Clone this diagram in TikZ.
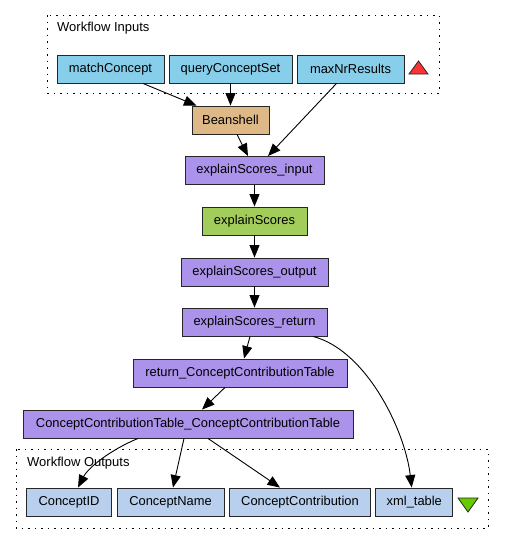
\documentclass[tikz,border=0pt]{standalone}
\usepackage{fontspec}
\setmainfont{Liberation Sans}
\usetikzlibrary{arrows.meta}
\definecolor{inblue}{HTML}{87CEEB}
\definecolor{beanc}{HTML}{DEB887}
\definecolor{purp}{HTML}{AB92EA}
\definecolor{wsdl}{HTML}{A2CD5A}
\definecolor{outblue}{HTML}{B9CFEE}
\definecolor{redtri}{HTML}{FF3333}
\definecolor{greentri}{HTML}{66CC00}
\tikzset{
  box/.style={draw=black!85, line width=0.9pt, inner sep=0pt, minimum height=28pt,
    font=\fontsize{12.9pt}{14pt}\selectfont, anchor=center},
  inport/.style={box, fill=inblue},
  outport/.style={box, fill=outblue},
  proc/.style={box, fill=purp},
  cluster/.style={draw=black, line width=1pt, dash pattern=on 1.5pt off 5pt},
  edge/.style={line width=0.9pt, -{Triangle[length=12.5pt,width=10pt]}},
  lbl/.style={font=\fontsize{13pt}{14pt}\selectfont, anchor=west, inner sep=0pt}
}
\begin{document}
\begin{tikzpicture}[x=1pt,y=-1pt]
\useasboundingbox (0,0) rectangle (504,544);
% clusters
\draw[cluster] (47,15) rectangle (439,93);
\node[lbl] (inlbl) at (57,28.5) {Workflow Inputs};
\draw[cluster] (16,449) rectangle (488,528);
\node[lbl] (outlbl) at (27,463) {Workflow Outputs};
% inputs
\node[inport, minimum width=107pt] (mc) at (110.5,69) {matchConcept};
\node[inport, minimum width=123pt] (qcs) at (230.5,69) {queryConceptSet};
\node[inport, minimum width=107pt] (mnr) at (350.5,69) {maxNrResults};
\draw[fill=redtri, draw=black!85, line width=0.8pt] (409,74) -- (428,74) -- (418.5,61) -- cycle;
% processors
\node[box, fill=beanc, minimum width=77pt] (bean) at (230.5,120) {Beanshell};
\node[proc, minimum width=139pt] (esin) at (254.5,170.5) {explainScores\_input};
\node[box, fill=wsdl, minimum width=105pt] (es) at (254.5,221) {explainScores};
\node[proc, minimum width=147pt] (esout) at (254.5,272) {explainScores\_output};
\node[proc, minimum width=145pt] (esret) at (254.5,322) {explainScores\_return};
\node[proc, minimum width=214pt] (rcct) at (240,373) {return\_ConceptContributionTable};
\node[proc, minimum width=330pt] (cct) at (188,424) {ConceptContributionTable\_ConceptContributionTable};
% outputs
\node[outport, minimum width=85pt] (cid) at (69,502) {ConceptID};
\node[outport, minimum width=107pt] (cname) at (170.5,502) {ConceptName};
\node[outport, minimum width=141pt] (ccontr) at (300,502) {ConceptContribution};
\node[outport, minimum width=77pt] (xml) at (414.3,502) {xml\_table};
\draw[fill=greentri, draw=black!85, line width=0.8pt] (458,498) -- (478,498) -- (468,512) -- cycle;
% edges
\draw[edge] ([xshift=32.5pt]mc.south) -- ([xshift=-34pt]bean.north);
\draw[edge] (qcs.south) -- (bean.north);
\draw[edge] ([xshift=-14pt]mnr.south) -- ([xshift=13.5pt]esin.north);
\draw[edge] ([xshift=6.5pt]bean.south) -- ([xshift=-6.5pt]esin.north);
\draw[edge] (esin.south) -- (es.north);
\draw[edge] (es.south) -- (esout.north);
\draw[edge] (esout.south) -- (esret.north);
\draw[edge] ([xshift=-4.5pt]esret.south) -- ([xshift=4pt]rcct.north);
\draw[edge] ([xshift=-15pt]rcct.south) -- ([xshift=14pt]cct.north);
\draw[edge] ([xshift=58.5pt]esret.south) .. controls (366,350) and (405,430) .. ([xshift=-2.6pt]xml.north);
\draw[edge] ([xshift=-50pt]cct.south) .. controls (110,450) and (88,468) .. ([xshift=9pt]cid.north);
\draw[edge] ([xshift=-4pt]cct.south) -- ([xshift=2.5pt]cname.north);
\draw[edge] ([xshift=20pt]cct.south) -- ([xshift=-20pt]ccontr.north);
\end{tikzpicture}
\end{document}
